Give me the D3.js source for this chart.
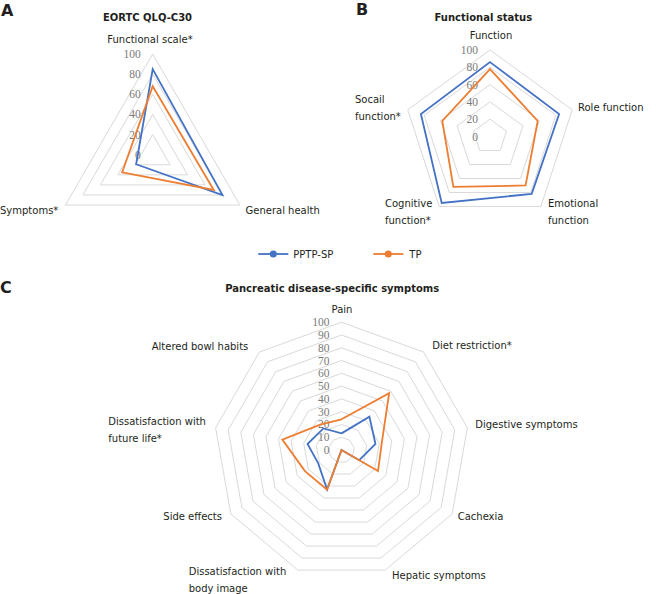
<!DOCTYPE html>
<html><head><meta charset="utf-8">
<script src="https://cdn.jsdelivr.net/npm/d3@7"></script>
<style>
html,body{margin:0;padding:0;background:#fff;}
svg{display:block;}
</style></head>
<body>
<svg id="chart" width="656" height="594"></svg>
<script>
// ---------- DATA ----------
const seriesNames = ["PPTP-SP", "TP"];

const axesA = ["Functional scale*", "General health", "Symptoms*"];
const ppA   = [85, 80, 19];
const tpA   = [68, 70, 35];
const ticksA = [0, 20, 40, 60, 80, 100];

const axesB = ["Function", "Role function", "Emotional function", "Cognitive function*", "Socail function*"];
const ppB   = [86, 84, 82, 95, 84];
const tpB   = [78, 58, 70, 72, 58];
const ticksB = [0, 20, 40, 60, 80, 100];

const axesC = ["Pain", "Diet restriction*", "Digestive symptoms", "Cachexia", "Hepatic symptoms",
               "Dissatisfaction with body image", "Side effects", "Dissatisfaction with future life*", "Altered bowl habits"];
const ppC   = [13, 34, 27, 16, 0, 33, 21, 27, 22];
const tpC   = [24, 58, 32, 33, 0, 33, 33, 47, 26];
const ticksC = [0, 10, 20, 30, 40, 50, 60, 70, 80, 90, 100];

// ---------- LAYOUT / STYLE ----------
const colors = {"PPTP-SP": "#4472C4", "TP": "#ED7D31"};
const gridColor = "#d9d9d9";
const labelFont = "'DejaVu Sans', Verdana, sans-serif";
const tickFont = "'Liberation Serif', 'Times New Roman', serif";

const svg = d3.select("#chart");

function radarPanel(opt) {
  const g = svg.append("g");
  const n = opt.axes.length;
  const r = d3.scaleLinear().domain([0, 100]).range([0, opt.R]);
  const ang = d3.scaleLinear().domain([0, n]).range([0, 2 * Math.PI]);
  const pt = (i, v) => [opt.cx + r(v) * Math.sin(ang(i)), opt.cy - r(v) * Math.cos(ang(i))];
  const line = d3.line().curve(d3.curveLinearClosed);

  // grid rings
  const rings = opt.ticks.filter(t => t > 0);
  g.selectAll("path.ring").data(rings).join("path")
    .attr("class", "ring")
    .attr("d", t => line(d3.range(n).map(i => pt(i, t))))
    .attr("fill", "none").attr("stroke", gridColor).attr("stroke-width", 1);

  // tick labels
  g.selectAll("text.tick").data(opt.ticks).join("text")
    .attr("class", "tick")
    .attr("x", opt.cx - 12)
    .attr("y", t => opt.cy - r(t))
    .attr("dy", "0.35em")
    .attr("text-anchor", "end")
    .attr("font-family", tickFont).attr("font-size", 11.5)
    .attr("fill", "#7a7a7a")
    .text(t => t);

  // series
  opt.series.forEach(s => {
    g.append("path")
      .attr("d", line(s.values.map((v, i) => pt(i, v))))
      .attr("fill", "none").attr("stroke", colors[s.name])
      .attr("stroke-width", 1.8).attr("stroke-linejoin", "miter");
  });

  // axis labels
  opt.axes.forEach((a, i) => {
    const L = opt.labelPos[i];
    const t = g.append("text")
      .attr("font-family", labelFont).attr("font-size", 10)
      .attr("fill", "#231f20")
      .attr("text-anchor", L.anchor || "start");
    L.lines.forEach((ln, k) => {
      t.append("tspan").attr("x", L.x).attr("y", L.y + k * 17).text(ln);
    });
  });

  // title
  g.append("text").attr("x", opt.title.x).attr("y", opt.title.y)
    .attr("text-anchor", "middle")
    .attr("font-family", labelFont).attr("font-size", 10).attr("font-weight", "bold")
    .attr("fill", "#231f20").text(opt.title.text);
  // panel letter
  g.append("text").attr("x", opt.letter.x).attr("y", opt.letter.y)
    .attr("font-family", labelFont).attr("font-size", 16).attr("font-weight", "bold")
    .attr("fill", "#231f20").text(opt.letter.text);
}

radarPanel({
  cx: 152.7, cy: 154.7, R: 100.7,
  axes: axesA, ticks: ticksA,
  series: [{name: seriesNames[0], values: ppA}, {name: seriesNames[1], values: tpA}],
  labelPos: [
    {lines: ["Functional scale*"], x: 150, y: 42.5, anchor: "middle"},
    {lines: ["General health"], x: 245.5, y: 213.5},
    {lines: ["Symptoms*"], x: 0, y: 213.5}
  ],
  title: {text: "EORTC QLQ-C30", x: 147.5, y: 20.5},
  letter: {text: "A", x: 1, y: 16}
});

radarPanel({
  cx: 490, cy: 136.5, R: 86.5,
  axes: axesB, ticks: ticksB,
  series: [{name: seriesNames[0], values: ppB}, {name: seriesNames[1], values: tpB}],
  labelPos: [
    {lines: ["Function"], x: 491, y: 39, anchor: "middle"},
    {lines: ["Role function"], x: 578, y: 111},
    {lines: ["Emotional", "function"], x: 548, y: 206.5},
    {lines: ["Cognitive", "function*"], x: 385, y: 206.5},
    {lines: ["Socail", "function*"], x: 355, y: 103}
  ],
  title: {text: "Functional status", x: 483.3, y: 20.5},
  letter: {text: "B", x: 356, y: 15}
});

radarPanel({
  cx: 341.5, cy: 450, R: 127.8,
  axes: axesC, ticks: ticksC,
  series: [{name: seriesNames[0], values: ppC}, {name: seriesNames[1], values: tpC}],
  labelPos: [
    {lines: ["Pain"], x: 342, y: 312.5, anchor: "middle"},
    {lines: ["Diet restriction*"], x: 432.3, y: 349},
    {lines: ["Digestive symptoms"], x: 475.3, y: 427.5},
    {lines: ["Cachexia"], x: 457.7, y: 519.5},
    {lines: ["Hepatic symptoms"], x: 392, y: 579},
    {lines: ["Dissatisfaction with", "body image"], x: 188.7, y: 575},
    {lines: ["Side effects"], x: 163.3, y: 519.5},
    {lines: ["Dissatisfaction with", "future life*"], x: 108.3, y: 425},
    {lines: ["Altered bowl habits"], x: 151.7, y: 349.5}
  ],
  title: {text: "Pancreatic disease-specific symptoms", x: 332.2, y: 292},
  letter: {text: "C", x: 0, y: 292.5}
});

// ---------- LEGEND ----------
const legendLayout = [{x: 258.3, textX: 293.3}, {x: 373.3, textX: 409.3}];
const lg = svg.append("g");
seriesNames.forEach((s, i) => {
  const L = legendLayout[i];
  lg.append("line").attr("x1", L.x).attr("x2", L.x + 30).attr("y1", 254).attr("y2", 254)
    .attr("stroke", colors[s]).attr("stroke-width", 1.8);
  lg.append("circle").attr("cx", L.x + 15).attr("cy", 254).attr("r", 3.5).attr("fill", colors[s]);
  lg.append("text").attr("x", L.textX).attr("y", 257.5)
    .attr("font-family", labelFont).attr("font-size", 10).attr("fill", "#231f20").text(s);
});
</script>
</body></html>
